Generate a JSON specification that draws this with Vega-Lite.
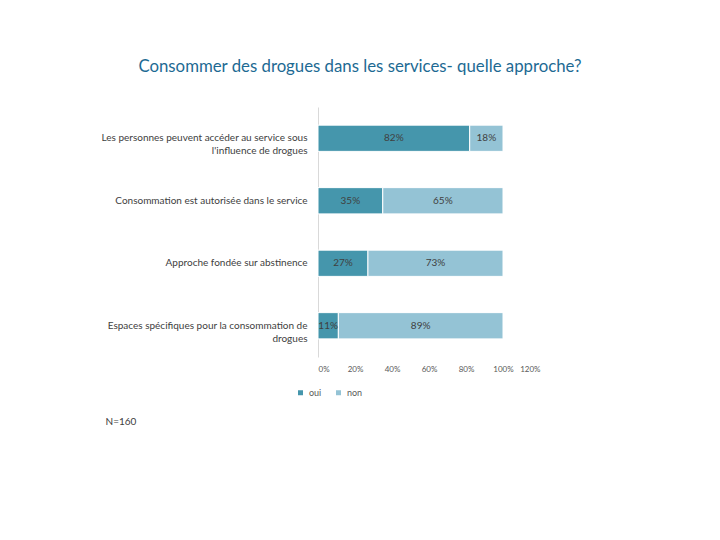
{
  "$schema": "https://vega.github.io/schema/vega-lite/v6.json",
  "width": 222,
  "height": 250,
  "autosize": {"type": "none"},
  "padding": {"left": 318, "top": 107, "right": 180, "bottom": 183},
  "background": "white",
  "config": {
    "view": {"stroke": null},
    "font": "Lato",
    "axisX": {
      "values": [0, 0.2, 0.4, 0.6, 0.8, 1.0, 1.2],
      "format": ".0%",
      "domain": false,
      "ticks": false,
      "grid": false,
      "labelOverlap": false,
      "labelFontSize": 8,
      "labelColor": "#595959",
      "labelPadding": 8,
      "titleX": -213,
      "titleY": 64,
      "titleAlign": "left",
      "titleBaseline": "middle",
      "titleFontSize": 10,
      "titleFontWeight": "normal",
      "titleColor": "#404040"
    }
  },
  "title": {
    "text": "Consommer des drogues dans les services- quelle approche?",
    "fontSize": 16.8,
    "font": "Lato",
    "fontWeight": "normal",
    "color": "#1d6a93",
    "anchor": "middle",
    "dx": -69,
    "offset": 31
  },
  "data": {
    "values": [
      {"approche": "Les personnes peuvent accéder au service sous l'influence de drogues", "serie": "oui", "valeur": 0.82},
      {"approche": "Les personnes peuvent accéder au service sous l'influence de drogues", "serie": "non", "valeur": 0.18},
      {"approche": "Consommation est autorisée dans le service", "serie": "oui", "valeur": 0.35},
      {"approche": "Consommation est autorisée dans le service", "serie": "non", "valeur": 0.65},
      {"approche": "Approche fondée sur abstinence", "serie": "oui", "valeur": 0.27},
      {"approche": "Approche fondée sur abstinence", "serie": "non", "valeur": 0.73},
      {"approche": "Espaces spécifiques pour la consommation de drogues", "serie": "oui", "valeur": 0.11},
      {"approche": "Espaces spécifiques pour la consommation de drogues", "serie": "non", "valeur": 0.89}
    ]
  },
  "encoding": {
    "y": {
      "field": "approche",
      "type": "nominal",
      "sort": null,
      "scale": {"paddingInner": 0.58, "paddingOuter": 0.29},
      "axis": {
        "title": null,
        "domainColor": "#d9d9d9",
        "ticks": false,
        "grid": false,
        "labelFontSize": 10,
        "labelColor": "#404040",
        "labelPadding": 11,
        "labelLimit": 320,
        "labelLineHeight": 13,
        "labelExpr": "indexof(datum.value, 'influence') >= 0 ? ['Les personnes peuvent accéder au service sous', \"l'influence de drogues\"] : (indexof(datum.value, 'Espaces') == 0 ? ['Espaces spécifiques pour la consommation de', 'drogues'] : datum.value)"
      }
    },
    "order": {"field": "serie", "sort": "descending"}
  },
  "layer": [
    {
      "mark": {"type": "bar", "stroke": "white", "strokeWidth": 1},
      "encoding": {
        "x": {
          "field": "valeur",
          "type": "quantitative",
          "stack": "zero",
          "scale": {"domain": [0, 1.2], "nice": false},
          "axis": {"title": "N=160"}
        },
        "color": {
          "field": "serie",
          "type": "nominal",
          "scale": {"domain": ["oui", "non"], "range": ["#4596ac", "#94c3d5"]},
          "legend": {
            "title": null,
            "orient": "none",
            "direction": "horizontal",
            "legendX": -22,
            "legendY": 281,
            "symbolType": "square",
            "symbolSize": 25,
            "symbolStrokeWidth": 0,
            "labelFontSize": 9,
            "labelColor": "#595959",
            "labelOffset": 4,
            "columnPadding": 12
          }
        }
      }
    },
    {
      "mark": {"type": "text", "fontSize": 10, "color": "#404040"},
      "encoding": {
        "x": {"field": "valeur", "type": "quantitative", "stack": "zero", "bandPosition": 0.5, "scale": {"domain": [0, 1.2], "nice": false}, "axis": {"title": "N=160"}},
        "text": {"field": "valeur", "type": "quantitative", "format": ".0%"}
      }
    }
  ]
}
